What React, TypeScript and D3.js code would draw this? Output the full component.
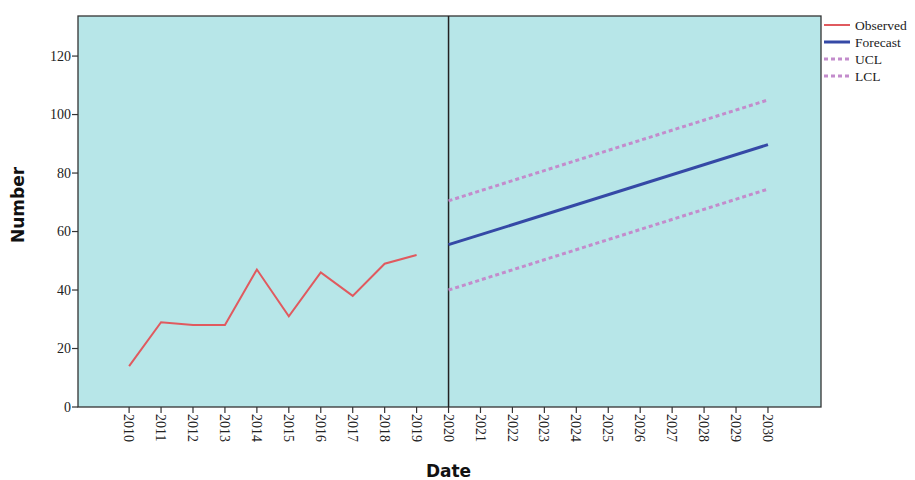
import React from "react";
import * as d3 from "d3";

const obsYears = [2010, 2011, 2012, 2013, 2014, 2015, 2016, 2017, 2018, 2019];
const obsValues = [14, 29, 28, 28, 47, 31, 46, 38, 49, 52];
const fcYears = [2020, 2030];
const fcValues = [55.5, 89.7];
const uclValues = [70.5, 105];
const lclValues = [40, 74.5];
const xTicks = [2010, 2011, 2012, 2013, 2014, 2015, 2016, 2017, 2018, 2019, 2020, 2021, 2022, 2023, 2024, 2025, 2026, 2027, 2028, 2029, 2030];
const yTicks = [0, 20, 40, 60, 80, 100, 120];
const legendItems = [
  { label: "Observed", color: "#e05a5f", dash: "", w: 2 },
  { label: "Forecast", color: "#3549a6", dash: "", w: 3 },
  { label: "UCL", color: "#c38ccc", dash: "4,3", w: 3 },
  { label: "LCL", color: "#c38ccc", dash: "4,3", w: 3 },
];

export default function App() {
  const L = 78, R = 821, T = 16, B = 407;
  const x = d3.scaleLinear().domain([2008.4, 2031.66]).range([L, R]);
  const y = d3.scaleLinear().domain([0, 133.7]).range([B, T]);
  const line = d3.line<[number, number]>().x(d => x(d[0])).y(d => y(d[1]));
  const obs = obsYears.map((yr, i) => [yr, obsValues[i]] as [number, number]);
  const fc = fcYears.map((yr, i) => [yr, fcValues[i]] as [number, number]);
  const ucl = fcYears.map((yr, i) => [yr, uclValues[i]] as [number, number]);
  const lcl = fcYears.map((yr, i) => [yr, lclValues[i]] as [number, number]);
  const serif = "'Liberation Serif', 'DejaVu Serif', serif";
  return (
    <svg width={915} height={480} style={{ position: "absolute", left: 0, top: 0, background: "#fff" }}>
      <rect x={L} y={T} width={R - L} height={B - T} fill="#b7e6e8" stroke="#333" strokeWidth={1.3} />
      {yTicks.map(t => (
        <g key={t}>
          <line x1={L - 6} x2={L} y1={y(t)} y2={y(t)} stroke="#333" strokeWidth={1.2} />
          <text x={L - 7} y={y(t)} dy="0.35em" textAnchor="end" fontFamily={serif} fontSize={14} fill="#222">{t}</text>
        </g>
      ))}
      {xTicks.map(t => (
        <g key={t}>
          <line x1={x(t)} x2={x(t)} y1={B} y2={B + 6} stroke="#333" strokeWidth={1.2} />
          <text transform={`translate(${x(t)},${B + 7}) rotate(90)`} dy="0.35em" textAnchor="start" fontFamily={serif} fontSize={14} fill="#222">{t}</text>
        </g>
      ))}
      <line x1={x(2020)} x2={x(2020)} y1={T} y2={B} stroke="#222" strokeWidth={1.5} />
      <path d={line(obs) || ""} fill="none" stroke="#e05a5f" strokeWidth={2} />
      <path d={line(ucl) || ""} fill="none" stroke="#c38ccc" strokeWidth={3} strokeDasharray="4,3" />
      <path d={line(lcl) || ""} fill="none" stroke="#c38ccc" strokeWidth={3} strokeDasharray="4,3" />
      <path d={line(fc) || ""} fill="none" stroke="#3549a6" strokeWidth={3} />
      <text transform={`translate(24,205) rotate(-90)`} textAnchor="middle" fontFamily="'DejaVu Sans', sans-serif" fontWeight="bold" fontSize={17} fill="#111">Number</text>
      <text x={x(2020)} y={477} textAnchor="middle" fontFamily="'DejaVu Sans', sans-serif" fontWeight="bold" fontSize={17} fill="#111">Date</text>
      {legendItems.map((d, i) => (
        <g key={d.label} transform={`translate(824,${25 + i * 17})`}>
          <line x1={0} x2={26} y1={0} y2={0} stroke={d.color} strokeWidth={d.w} strokeDasharray={d.dash} />
          <text x={31} y={0} dy="0.35em" fontFamily={serif} fontSize={13.5} fill="#222">{d.label}</text>
        </g>
      ))}
    </svg>
  );
}
